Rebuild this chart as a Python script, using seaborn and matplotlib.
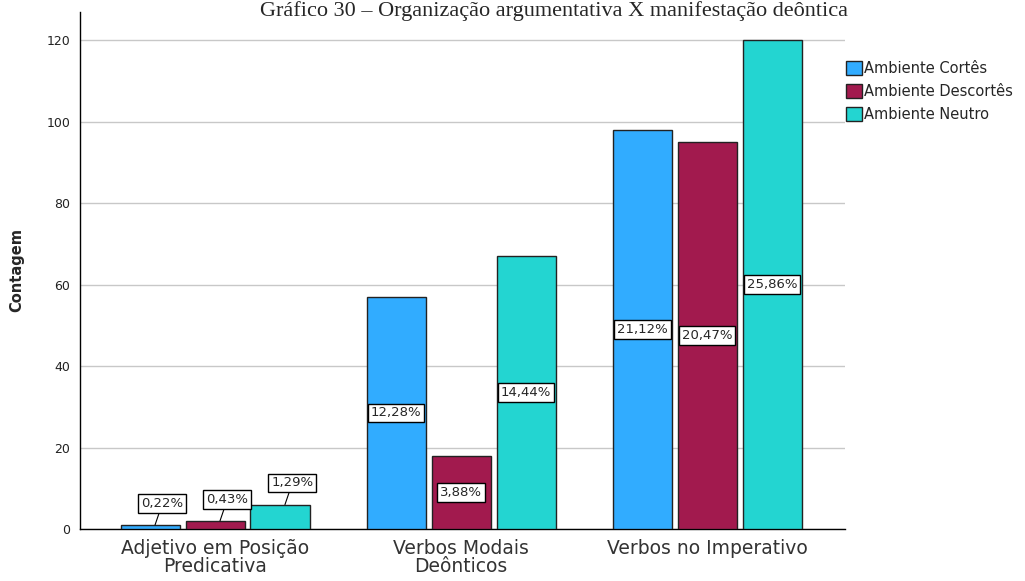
import matplotlib
matplotlib.use("Agg")
import matplotlib.pyplot as plt
import seaborn as sns
import pandas as pd

categorias = ["Adjetivo em Posição\nPredicativa", "Verbos Modais\nDeônticos", "Verbos no Imperativo"]
ambientes = ["Ambiente Cortês", "Ambiente Descortês", "Ambiente Neutro"]
cortes = [1, 57, 98]
descortes = [2, 18, 95]
neutro = [6, 67, 120]
cores = ["#31ACFF", "#A21A4E", "#23D5D1"]
titulo = "Gráfico 30 – Organização argumentativa X manifestação deôntica"

linhas = []
for amb, vals in zip(ambientes, [cortes, descortes, neutro]):
    for cat, v in zip(categorias, vals):
        linhas.append({"Categoria": cat, "Ambiente": amb, "Contagem": v})
df = pd.DataFrame(linhas)
total = df["Contagem"].sum()

sns.set_style("white")
plt.rcParams["font.family"] = ["DejaVu Sans"]

fig = plt.figure(figsize=(10.25, 5.81), dpi=100)
ax = fig.add_axes([80 / 1025, 1 - 529 / 581, 765 / 1025, 517 / 581])

sns.barplot(data=df, x="Categoria", y="Contagem", hue="Ambiente",
            order=categorias, hue_order=ambientes, palette=cores,
            width=0.792, gap=0.09, edgecolor="#222222", linewidth=1.0,
            saturation=1, ax=ax, legend=True, zorder=3)

ax.set_xlim(-0.549, 2.56)
ax.set_ylim(0, 127)
ax.set_yticks([0, 20, 40, 60, 80, 100, 120])
ax.yaxis.grid(True, color="#C8C8C8", linewidth=1.0, zorder=0)
ax.set_axisbelow(True)
for s in ["top", "right"]:
    ax.spines[s].set_visible(False)
for s in ["left", "bottom"]:
    ax.spines[s].set_color("black")
    ax.spines[s].set_linewidth(1.0)
ax.tick_params(axis="y", labelsize=9, length=0, pad=7, colors="#222222")
ax.tick_params(axis="x", labelsize=13.5, length=0, pad=7, colors="#333333")
for t in ax.get_xticklabels():
    t.set_linespacing(0.95)
ax.set_xlabel("")
ax.set_ylabel("Contagem", fontsize=10.5, fontweight="bold", labelpad=16)

caixa = dict(boxstyle="square,pad=0.22", facecolor="white", edgecolor="black", linewidth=1.0)
for cont in ax.containers:
    for barra in cont:
        v = barra.get_height()
        x = barra.get_x() + barra.get_width() / 2
        txt = f"{100 * v / total:.2f}%".replace(".", ",")
        if v >= 10:
            ax.text(x, v / 2, txt, ha="center", va="center", fontsize=9.5,
                    bbox=caixa, zorder=5)
        else:
            ax.annotate(txt, xy=(x + 0.02, v), xytext=(x + 0.05, v + 5.3),
                        ha="center", va="center", fontsize=9.5, bbox=caixa,
                        arrowprops=dict(arrowstyle="-", color="black", lw=0.8,
                                        shrinkA=0, shrinkB=0),
                        zorder=5)

leg = ax.legend(loc="upper left", bbox_to_anchor=(1.0, 0.908), frameon=False,
                fontsize=10.5, handlelength=1.05, handleheight=1.05,
                handletextpad=0.15, labelspacing=0.55, borderaxespad=0.0,
                borderpad=0.1)
for h in leg.legend_handles:
    h.set_edgecolor("#222222")

fig.text(554 / 1025, 1 - 1 / 581, titulo, ha="center", va="top",
         fontsize=16, family=["Liberation Serif", "DejaVu Serif"])

fig.savefig("out.png", dpi=100)
